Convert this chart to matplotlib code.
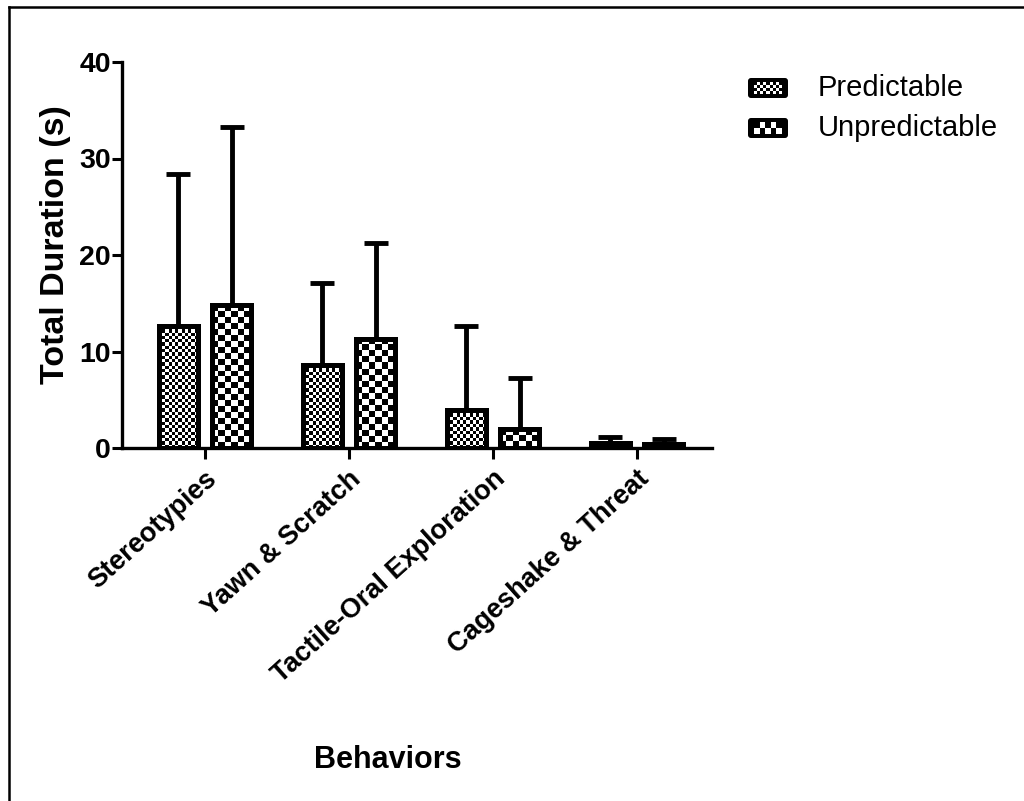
import matplotlib.pyplot as plt
import numpy as np
from matplotlib.patches import FancyBboxPatch
from matplotlib.lines import Line2D

plt.rcParams['font.family'] = ['Liberation Sans', 'DejaVu Sans']

# datos
categorias = ['Stereotypies', 'Yawn & Scratch', 'Tactile-Oral Exploration', 'Cageshake & Threat']
grupos = ['Predictable', 'Unpredictable']
media_pred = [12.6, 8.6, 3.9, 0.5]
error_pred = [15.8, 8.5, 8.7, 0.6]
media_unpred = [14.8, 11.3, 2.0, 0.4]
error_unpred = [18.5, 9.9, 5.3, 0.5]


def tablero(filas, cols):
    return (np.indices((filas, cols)).sum(axis=0) % 2).astype(float)


fig = plt.figure(figsize=(10.24, 8.01), dpi=100)
ax = fig.add_axes([122 / 1024, 1 - 448 / 801, 590 / 1024, 386 / 801])

x = np.arange(len(categorias))
ancho = 0.27
desp = 0.185
px_x = 590 / (3.52 + 0.576)   # pixeles por unidad en x
px_y = 386 / 40.0

for medias, errores, signo, celda in [(media_pred, error_pred, -1, 3.3),
                                       (media_unpred, error_unpred, 1, 6.0)]:
    pos = x + signo * desp
    ax.errorbar(pos, medias, yerr=[np.zeros(len(medias)), errores], fmt='none',
                ecolor='black', elinewidth=3.5, capsize=8.5, capthick=3.5, zorder=1)
    barras = ax.bar(pos, medias, width=ancho, facecolor='white', edgecolor='black',
                    linewidth=3.6, zorder=2)
    for b in barras:
        x0, w, h = b.get_x(), b.get_width(), b.get_height()
        cols = max(1, int(round(w * px_x / celda)))
        filas = max(1, int(round(h * px_y / celda)))
        ax.imshow(tablero(filas, cols), cmap='gray', vmin=0, vmax=1,
                  extent=[x0, x0 + w, 0, h], aspect='auto',
                  interpolation='nearest', zorder=2.5)
    ax.bar(pos, medias, width=ancho, facecolor='none', edgecolor='black',
           linewidth=3.6, zorder=3, joinstyle='round')

ax.set_xlim(-0.576, 3.52)
ax.set_ylim(0, 40)
ax.set_yticks([0, 10, 20, 30, 40])
ax.set_xticks(x)
ax.set_xticklabels(categorias, rotation=42, ha='right', rotation_mode='anchor',
                   fontsize=19.5, fontweight='bold')
for t in ax.get_yticklabels():
    t.set_fontsize(20.5)
    t.set_fontweight('bold')
ax.tick_params(axis='both', width=2.2, length=7, pad=1)
ax.tick_params(axis='x', length=8, pad=5)
for lado in ['top', 'right']:
    ax.spines[lado].set_visible(False)
for lado in ['left', 'bottom']:
    ax.spines[lado].set_linewidth(2.4)

fig.text(56 / 1024, 1 - 245 / 801, 'Total Duration (s)', rotation=90,
         ha='center', va='center', fontsize=24.5, fontweight='bold')
fig.text(388 / 1024, 1 - 760 / 801, 'Behaviors', ha='center', va='center',
         fontsize=22, fontweight='bold')

# leyenda manual
for i, nombre in enumerate(grupos):
    yc = 88 + i * 40
    lax = fig.add_axes([748 / 1024, 1 - (yc + 10) / 801, 40 / 1024, 20 / 801])
    lax.set_xlim(0, 40)
    lax.set_ylim(0, 20)
    lax.add_patch(FancyBboxPatch((0, 0), 40, 20, boxstyle='round,pad=0,rounding_size=3',
                                 facecolor='black', edgecolor='none'))
    if i == 0:
        patron, ext = tablero(4, 9), [6, 34, 4, 16]
    else:
        patron, ext = tablero(2, 5), [6, 34, 4, 16]
    lax.imshow(patron, cmap='gray', vmin=0, vmax=1, extent=ext, aspect='auto',
               interpolation='nearest', zorder=2)
    lax.axis('off')
    fig.text(818 / 1024, 1 - yc / 801, nombre, ha='left', va='center', fontsize=21)

# borde superior e izquierdo
fig.add_artist(Line2D([9 / 1024, 9 / 1024], [0, 1 - 7 / 801], color='black', lw=1.8))
fig.add_artist(Line2D([9 / 1024, 1], [1 - 7 / 801, 1 - 7 / 801], color='black', lw=1.8))

plt.savefig('out.png', dpi=100)
